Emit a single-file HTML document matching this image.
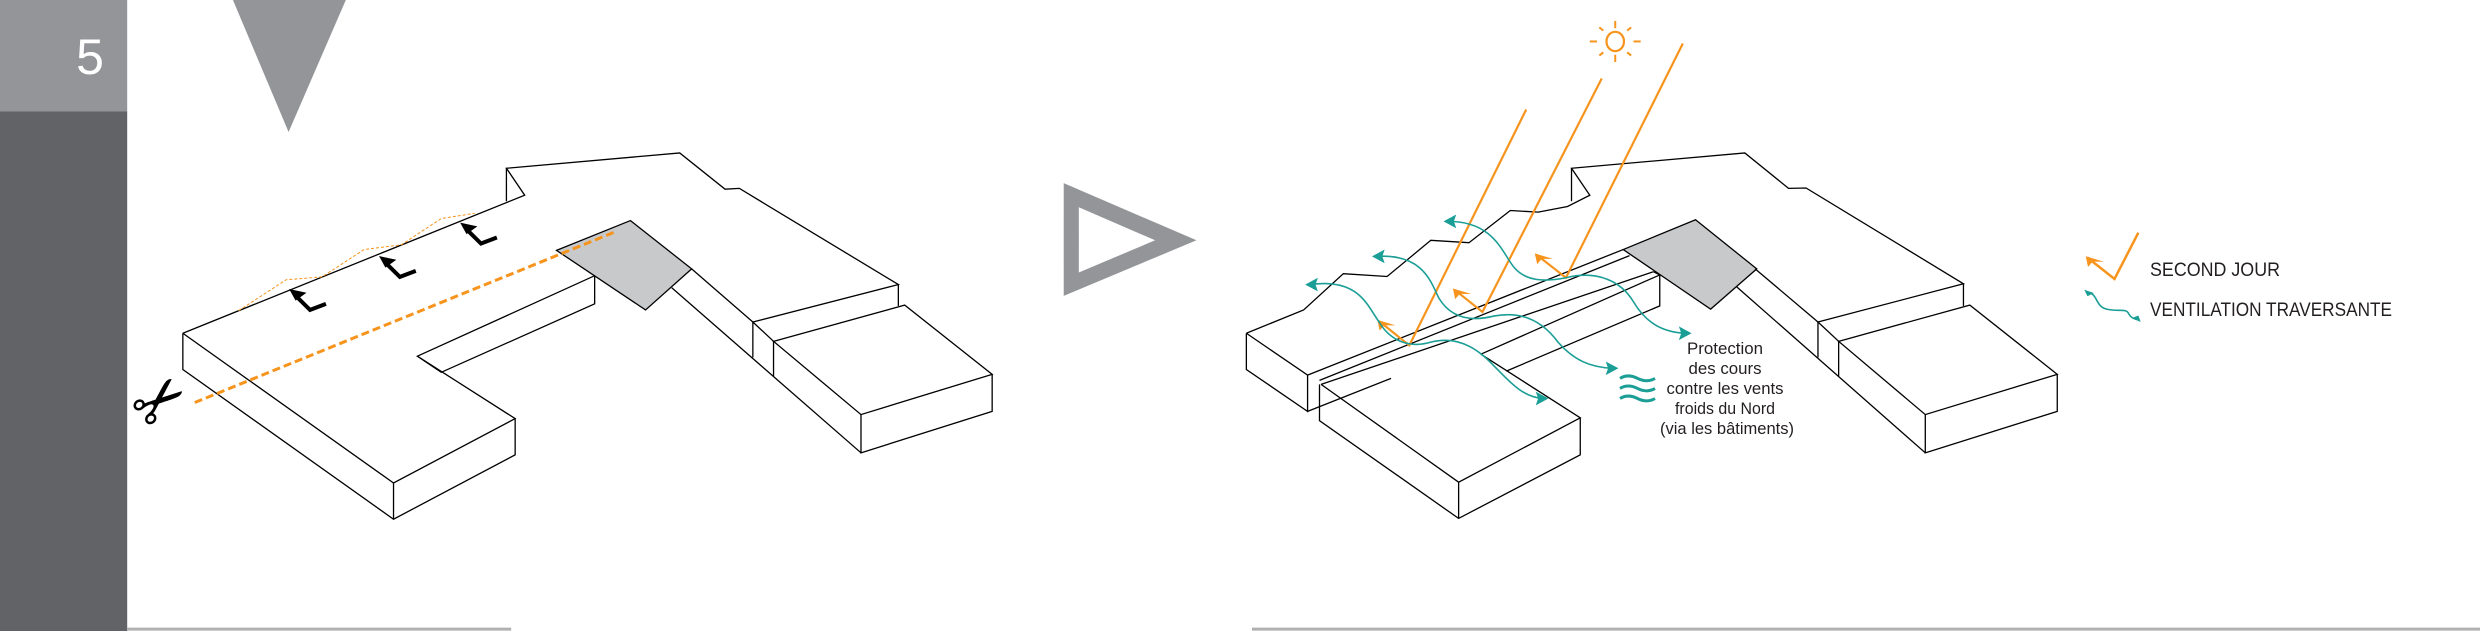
<!DOCTYPE html>
<html><head><meta charset="utf-8"><style>
html,body{margin:0;padding:0;background:#fff;width:2480px;height:631px;overflow:hidden}
svg{display:block}
text{font-family:"Liberation Sans Narrow","Liberation Sans",sans-serif}
g *{vector-effect:non-scaling-stroke}
</style></head><body>
<svg width="2480" height="631" viewBox="0 0 2480 631" xmlns="http://www.w3.org/2000/svg">
<defs>
<marker id="ao" markerWidth="24" markerHeight="24" refX="20" refY="12" orient="auto" markerUnits="userSpaceOnUse" viewBox="0 0 24 24"><path d="M0,0 L24,12 L0,24 L8,12Z" fill="#f7941d"/></marker>
</defs>
<g transform="scale(0.795,0.4025)">
<rect x="0" y="0" width="160" height="277" fill="#939598"/>
<rect x="0" y="277" width="160" height="1291" fill="#626366"/>
<polygon points="293,0 435,0 363,328" fill="#939598"/>
<polygon points="1338,455 1505,597 1338,735" fill="#939598"/>
<polygon points="1357,515 1453,597 1357,677" fill="#fff"/>
<line x1="160" y1="1563" x2="643" y2="1563" stroke="#b0b0b2" stroke-width="3"/>
<g fill="none" stroke="#000" stroke-width="1.3">
<polyline points="230,828 660,485 637,418 855,380 912,470 930,468 1130,707 947,800"/>
<line x1="637" y1="418" x2="637" y2="500"/>
<polyline points="230,828 495,1200 648,1040 525,885 748,685 748,755 555,925 525,885"/>
<polyline points="230,828 230,918 495,1290 648,1130 648,1040"/>
<line x1="495" y1="1200" x2="495" y2="1290"/>
<polygon points="700,622 793,548 870,668 812,770" fill="#c8c9cb"/>
<line x1="870" y1="668" x2="947" y2="800"/>
<line x1="845" y1="715" x2="1083" y2="1125"/>
<line x1="1130" y1="707" x2="1130" y2="760"/>
<polygon points="973,848 1138,758 1248,930 1083,1030"/>
<polyline points="947,800 973,848"/>
<line x1="947" y1="800" x2="947" y2="888"/>
<line x1="973" y1="848" x2="973" y2="935"/>
<polyline points="1083,1030 1083,1125 1248,1022 1248,930"/>
</g>
<line x1="245" y1="1000" x2="775" y2="575" stroke="#f7941d" stroke-width="3" stroke-dasharray="8,4"/>
<polyline points="300,772 360,695 405,688 458,620 505,608 555,543 597,530" fill="none" stroke="#f7941d" stroke-width="1" stroke-dasharray="3,2"/>
<g fill="none" stroke="#000" stroke-width="4">
<polyline points="372,735 390,770 410,755"/><polygon points="365,720 384,728 372,745" fill="#000" stroke-width="1"/>
<polyline points="485,653 503,688 523,673"/><polygon points="478,638 497,646 485,663" fill="#000" stroke-width="1"/>
<polyline points="587,570 605,605 625,590"/><polygon points="580,555 599,563 587,580" fill="#000" stroke-width="1"/>
</g>
</g>
<text x="90" y="74" fill="#fff" font-size="50" text-anchor="middle">5</text>
<text x="163" y="422" font-size="64" text-anchor="middle" transform="rotate(-40 163 405)" fill="#000">✂</text>
<g transform="translate(1240,0) scale(0.795,0.4025)">
<line x1="15" y1="1563" x2="1560" y2="1563" stroke="#b0b0b2" stroke-width="3"/>
<g fill="none" stroke="#000" stroke-width="1.3">
<polyline points="8,828 80,770 130,680 185,687 240,597 288,603 340,523 375,527 412,513 440,485 417,418 635,380 690,468 712,467 910,705 727,800"/>
<line x1="417" y1="418" x2="417" y2="500"/>
<polygon points="482,620 573,546 650,668 592,768" fill="#c8c9cb"/>
<line x1="648" y1="668" x2="727" y2="800"/>
<line x1="625" y1="713" x2="862" y2="1125"/>
<line x1="910" y1="705" x2="910" y2="760"/>
<polygon points="753,848 918,758 1028,930 862,1030"/>
<line x1="727" y1="800" x2="753" y2="848"/>
<line x1="727" y1="800" x2="727" y2="888"/>
<line x1="753" y1="848" x2="753" y2="935"/>
<polyline points="862,1030 862,1125 1028,1022 1028,930"/>
<polyline points="8,828 85,932 85,1022 8,918 8,828"/>
<line x1="85" y1="932" x2="482" y2="620"/>
<line x1="100" y1="945" x2="490" y2="635"/>
<line x1="102" y1="955" x2="520" y2="675"/>
<polyline points="520,675 528,683 528,760 335,922"/>
<line x1="303" y1="880" x2="528" y2="683"/>
<polyline points="102,955 275,1198 428,1038 303,880"/>
<polyline points="100,955 100,1045 275,1288 428,1130 428,1038"/>
<line x1="275" y1="1198" x2="275" y2="1288"/>
<line x1="85" y1="1022" x2="190" y2="940"/>
</g>
<g stroke="#f7941d" stroke-width="2.2" fill="none">
<polyline points="360,272 213,858 175,798" marker-end="url(#ao)"/>
<polyline points="455,195 305,775 270,720" marker-end="url(#ao)"/>
<polyline points="557,108 410,690 373,633" marker-end="url(#ao)"/>
<ellipse cx="472" cy="103" rx="11" ry="24"/>
<g stroke-width="2">
<line x1="472" y1="52" x2="472" y2="70"/><line x1="472" y1="136" x2="472" y2="154"/>
<line x1="440" y1="103" x2="449" y2="103"/><line x1="495" y1="103" x2="504" y2="103"/>
<line x1="452" y1="68" x2="457" y2="76"/><line x1="492" y1="68" x2="487" y2="76"/>
<line x1="452" y1="138" x2="457" y2="130"/><line x1="492" y1="138" x2="487" y2="130"/>
</g>
<polyline points="1130,578 1100,693 1066,640" marker-end="url(#ao)" stroke-width="2.5"/>
</g>
<g stroke="#1a9e96" stroke-width="1.6" fill="none">
<path d="M88,707 C150,690 160,760 175,800 C190,850 215,865 240,850 C280,830 305,880 320,910 C340,950 355,985 380,990"/>
<path d="M172,637 C230,630 240,700 250,740 C265,790 290,800 320,785 C360,770 385,810 400,850 C420,895 440,912 468,915"/>
<path d="M262,550 C320,550 330,630 345,665 C360,700 385,700 410,690 C450,670 480,700 495,750 C510,800 530,825 560,828"/>
<path d="M1065,725 C1080,730 1075,760 1090,768 C1105,775 1115,765 1118,780 C1120,788 1125,793 1130,795"/>
<path d="M478,940 q10,-12 22,0 t22,0 M478,965 q10,-12 22,0 t22,0 M478,990 q10,-12 22,0 t22,0" stroke-width="3"/>
</g>
<g fill="#1a9e96">
<polygon points="82,707 98,690 95,707 98,724"/>
<polygon points="166,637 182,620 179,637 182,654"/>
<polygon points="256,550 272,533 269,550 272,567"/>
<polygon points="388,990 372,973 375,990 372,1007"/>
<polygon points="476,915 460,898 463,915 460,932"/>
<polygon points="568,828 552,811 555,828 552,845"/>
<polygon points="1062,720 1074,728 1066,736"/><polygon points="1133,800 1122,790 1130,784"/>
</g>
</g>
<g font-size="17" fill="#231f20" text-anchor="middle">
<text x="1725" y="354" textLength="76" lengthAdjust="spacingAndGlyphs">Protection</text>
<text x="1725" y="374" textLength="73" lengthAdjust="spacingAndGlyphs">des cours</text>
<text x="1725" y="394" textLength="117" lengthAdjust="spacingAndGlyphs">contre les vents</text>
<text x="1725" y="414" textLength="100" lengthAdjust="spacingAndGlyphs">froids du Nord</text>
<text x="1727" y="434" textLength="134" lengthAdjust="spacingAndGlyphs">(via les bâtiments)</text>
</g>
<text x="2150" y="276" font-size="19" fill="#231f20" textLength="130" lengthAdjust="spacingAndGlyphs">SECOND JOUR</text>
<text x="2150" y="316" font-size="19" fill="#231f20" textLength="242" lengthAdjust="spacingAndGlyphs">VENTILATION TRAVERSANTE</text>
</svg>
</body></html>
